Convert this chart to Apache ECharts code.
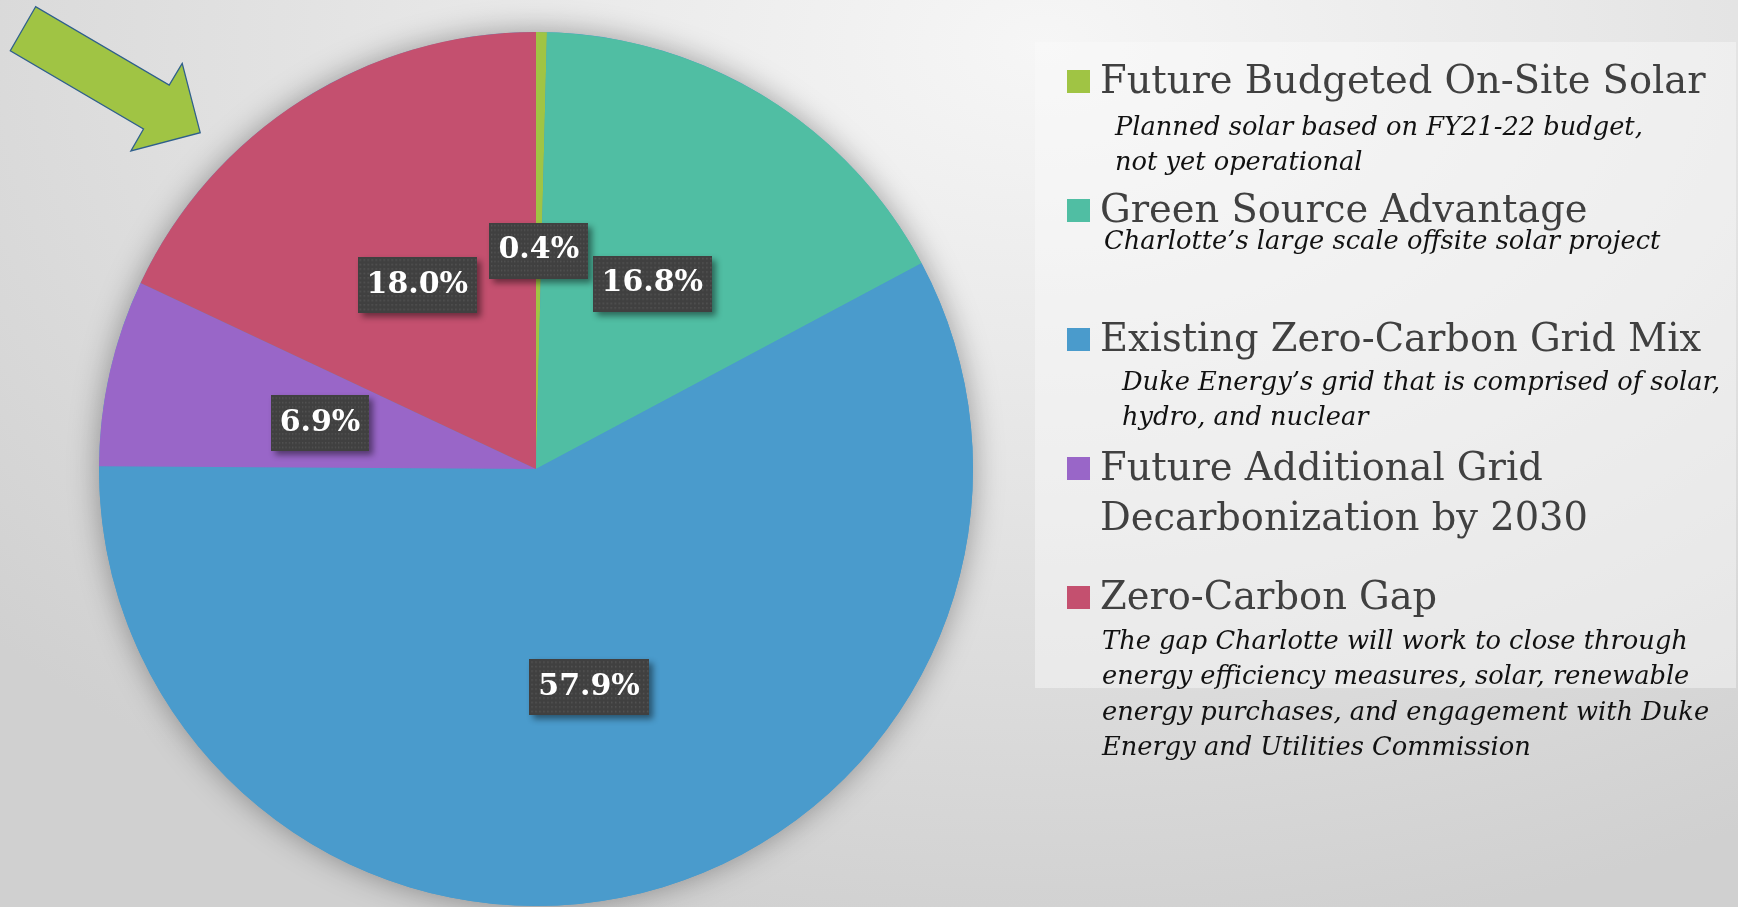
<!DOCTYPE html>
<html>
<head>
<meta charset="utf-8">
<script src="https://cdn.jsdelivr.net/npm/echarts@6/dist/echarts.min.js"></script>
<style>
  html, body { margin: 0; padding: 0; overflow: hidden; }
  body {
    width: 1738px; height: 907px;
    background: radial-gradient(ellipse 80% 100% at 60% 5%, #f6f6f6 0%, #e4e4e4 50%, #d0d0d0 100%);
  }
  #chart { width: 1738px; height: 907px; }
</style>
</head>
<body>
<div id="chart"></div>
<script>
// slices, clockwise from 12 o'clock
const categories = [
  'Future Budgeted On-Site Solar',
  'Green Source Advantage',
  'Existing Zero-Carbon Grid Mix',
  'Future Additional Grid Decarbonization by 2030',
  'Zero-Carbon Gap'
]
const shares = [0.4, 16.8, 57.9, 6.9, 18.0]
const colors = ['#a0c444', '#50bea3', '#4a9bcc', '#9966c8', '#c4506f']

// legend titles (with the line break used on the slide) and the italic notes
const legendTitles = [
  'Future Budgeted On-Site Solar',
  'Green Source Advantage',
  'Existing Zero-Carbon Grid Mix',
  'Future Additional Grid\nDecarbonization by 2030',
  'Zero-Carbon Gap'
]
const legendNotes = [
  ['Planned solar based on FY21-22 budget,', 'not yet operational'],
  ['Charlotte\u2019s large scale offsite solar project'],
  ['Duke Energy\u2019s grid that is comprised of solar,', 'hydro, and nuclear'],
  [],
  ['The gap Charlotte will work to close through',
   'energy efficiency measures, solar, renewable',
   'energy purchases, and engagement with Duke',
   'Energy and Utilities Commission']
]

const chart = echarts.init(document.getElementById('chart'))

const headFont = 'DejaVu Serif'
const noteFont = 'DejaVu Serif'
const headSize = 38.4
const noteSize = 25.7

// legend layout
const legendX = 1067
const legendTop = 70
const legendPitch = 129
const noteX = [1115, 1104, 1122, 0, 1102]
const noteDy = [42, 27, 39, 0, 40]

// dotted dark fill for the percentage boxes
function dotPattern(w, h) {
  const c = document.createElement('canvas')
  c.width = w; c.height = h
  const ctx = c.getContext('2d')
  ctx.fillStyle = '#404040'
  ctx.fillRect(0, 0, w, h)
  ctx.fillStyle = '#555555'
  for (let y = 2; y < h; y += 4) {
    for (let x = 2; x < w; x += 4) ctx.fillRect(x, y, 1.5, 1.5)
  }
  return c
}
const dots = dotPattern(120, 50)

const graphics = [
  {
    type: 'rect', z: 0, silent: true,
    shape: { x: 1035, y: 42, width: 701, height: 646 },
    style: { fill: 'rgba(250,250,250,0.45)' }
  },
  {
    type: 'polygon', z: 5, silent: true,
    shape: { points: [[35.6, 6.7], [10.3, 50.7], [143.5, 129], [130.9, 151], [200.2, 132.7], [182.2, 63.3], [169.2, 85]] },
    style: { fill: '#a0c444', stroke: '#2f5f8c', lineWidth: 1.3 }
  }
]

legendTitles.forEach((title, i) => {
  const top = legendTop + i * legendPitch
  const baseline = top + 26
  graphics.push({
    type: 'rect', silent: true,
    shape: { x: legendX, y: top, width: 23, height: 23 },
    style: { fill: colors[i] }
  })
  title.split('\n').forEach((line, k) => {
    graphics.push({
      type: 'text', silent: true,
      style: {
        text: line, x: 1100, y: baseline + k * 50 - 0.35 * headSize,
        verticalAlign: 'middle',
        font: headSize + 'px "' + headFont + '"', fill: '#404040'
      }
    })
  })
  legendNotes[i].forEach((line, k) => {
    graphics.push({
      type: 'text', silent: true,
      style: {
        text: line, x: noteX[i], y: baseline + noteDy[i] - 1 + k * 35.5 - 0.35 * noteSize,
        verticalAlign: 'middle',
        font: 'italic ' + noteSize + 'px "' + noteFont + '"', fill: '#111111'
      }
    })
  })
})

const option = {
  backgroundColor: 'transparent',
  animation: false,
  graphic: graphics,
  series: [
    {
      // backdrop for the pie's soft shadow
      type: 'pie', silent: true, z: 1,
      center: [536, 469], radius: 437,
      data: [{ value: 1, name: 'shadow' }],
      itemStyle: { color: '#4a9bcc', shadowBlur: 30, shadowColor: 'rgba(0,0,0,0.35)' },
      label: { show: false }, labelLine: { show: false }
    },
    {
      type: 'pie', z: 2,
      center: [536, 469], radius: 437,
      startAngle: 90, clockwise: true,
      avoidLabelOverlap: false,
      data: categories.map((name, i) => ({ name, value: shares[i], itemStyle: { color: colors[i] } })),
      itemStyle: { borderWidth: 0 },
      label: {
        show: true, position: 'inside',
        offset: [0, 3],
        formatter: p => p.value.toFixed(1) + '%',
        color: '#ffffff', fontFamily: 'DejaVu Serif', fontWeight: 'bold', fontSize: 30,
        backgroundColor: { image: dots },
        padding: [14, 9, 12, 9],
        shadowColor: 'rgba(0,0,0,0.45)', shadowBlur: 6, shadowOffsetX: 4, shadowOffsetY: 4
      },
      labelLine: { show: false },
      emphasis: { disabled: true }
    }
  ]
}

chart.setOption(option)
</script>
</body>
</html>
